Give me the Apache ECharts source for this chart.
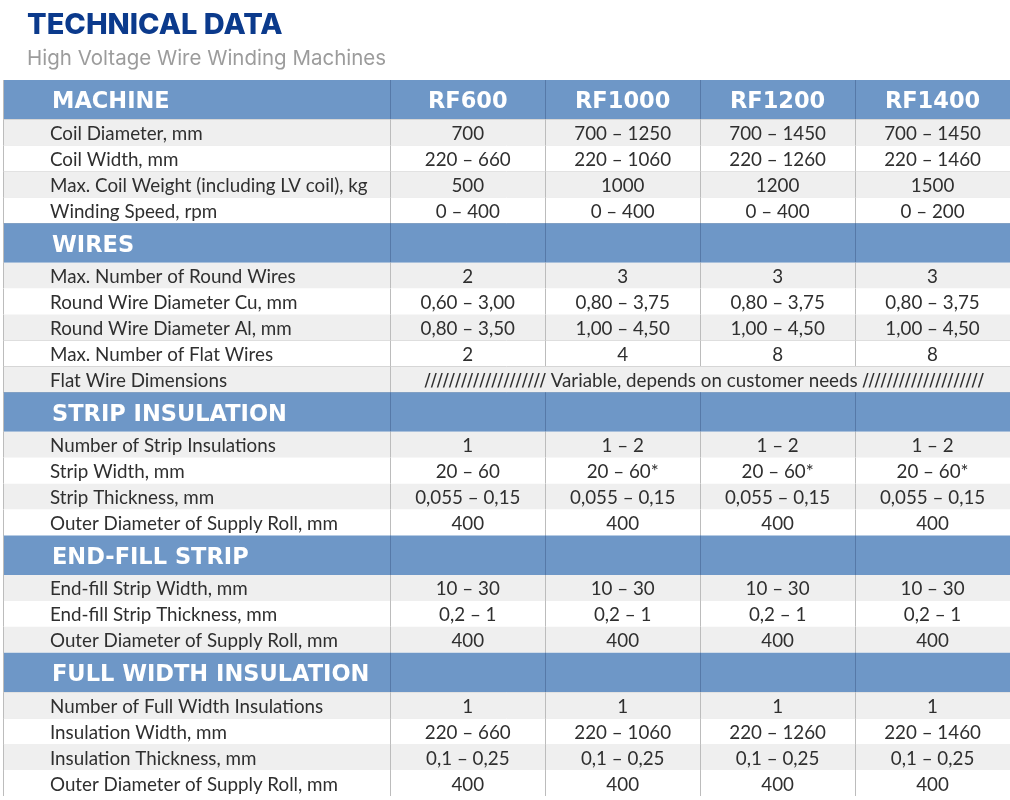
<!DOCTYPE html>
<html>
<head>
<meta charset="utf-8">
<title>Technical Data</title>
<script src="https://cdn.jsdelivr.net/npm/echarts@6/dist/echarts.min.js"></script>
<style>
  html, body { margin: 0; padding: 0; background: #fff; }
  #chart { width: 1010px; height: 800px; }
</style>
</head>
<body>
<div id="chart"></div>
<script>
const machines = ['RF600', 'RF1000', 'RF1200', 'RF1400'];
const sectionTitles = ['MACHINE', 'WIRES', 'STRIP INSULATION', 'END-FILL STRIP', 'FULL WIDTH INSULATION'];

const machineRows = ['Coil Diameter, mm', 'Coil Width, mm', 'Max. Coil Weight (including LV coil), kg', 'Winding Speed, rpm'];
const wireRows = ['Max. Number of Round Wires', 'Round Wire Diameter Cu, mm', 'Round Wire Diameter Al, mm', 'Max. Number of Flat Wires', 'Flat Wire Dimensions'];
const stripRows = ['Number of Strip Insulations', 'Strip Width, mm', 'Strip Thickness, mm', 'Outer Diameter of Supply Roll, mm'];
const endFillRows = ['End-fill Strip Width, mm', 'End-fill Strip Thickness, mm', 'Outer Diameter of Supply Roll, mm'];
const fullWidthRows = ['Number of Full Width Insulations', 'Insulation Width, mm', 'Insulation Thickness, mm', 'Outer Diameter of Supply Roll, mm'];

// values per machine, in table order; null marks the merged "Flat Wire Dimensions" row
const rf600 = ['700', '220 – 660', '500', '0 – 400',
  '2', '0,60 – 3,00', '0,80 – 3,50', '2', null,
  '1', '20 – 60', '0,055 – 0,15', '400',
  '10 – 30', '0,2 – 1', '400',
  '1', '220 – 660', '0,1 – 0,25', '400'];
const rf1000 = ['700 – 1250', '220 – 1060', '1000', '0 – 400',
  '3', '0,80 – 3,75', '1,00 – 4,50', '4', null,
  '1 – 2', '20 – 60*', '0,055 – 0,15', '400',
  '10 – 30', '0,2 – 1', '400',
  '1', '220 – 1060', '0,1 – 0,25', '400'];
const rf1200 = ['700 – 1450', '220 – 1260', '1200', '0 – 400',
  '3', '0,80 – 3,75', '1,00 – 4,50', '8', null,
  '1 – 2', '20 – 60*', '0,055 – 0,15', '400',
  '10 – 30', '0,2 – 1', '400',
  '1', '220 – 1260', '0,1 – 0,25', '400'];
const rf1400 = ['700 – 1450', '220 – 1460', '1500', '0 – 200',
  '3', '0,80 – 3,75', '1,00 – 4,50', '8', null,
  '1 – 2', '20 – 60*', '0,055 – 0,15', '400',
  '10 – 30', '0,2 – 1', '400',
  '1', '220 – 1460', '0,1 – 0,25', '400'];
const flatWireNote = '//////////////////// Variable, depends on customer needs ////////////////////';

// layout
const labelColWidth = 2.5;   // in units of a machine column
const sectionHeight = 1.52;  // in units of a data row
const BLUE = '#6e97c7';
const BLUE_LINE = '#5679a8';
const GRID_LINE = '#bcbcbc';
const STRIPE = '#efefef';
const TEXT = '#2f2f2f';
const BODY_FONT = 'Lato, "Noto Sans", sans-serif';
const HEAD_FONT = '"DejaVu Sans", sans-serif';
const BODY_SIZE = 18.8;

const columns = [rf600, rf1000, rf1200, rf1400];
const groups = [machineRows, wireRows, stripRows, endFillRows, fullWidthRows];

// flatten into table rows with cumulative top/bottom (in row units)
const rows = [];
let cursor = 0, valueIdx = 0;
groups.forEach(function (labels, g) {
  rows.push({ kind: 'section', title: sectionTitles[g], first: g === 0, top: cursor, bottom: cursor + sectionHeight });
  cursor += sectionHeight;
  labels.forEach(function (label, i) {
    const vals = columns.map(function (c) { return c[valueIdx]; });
    rows.push({ kind: 'data', label: label, values: vals, stripe: i % 2 === 0, top: cursor, bottom: cursor + 1 });
    cursor += 1;
    valueIdx++;
  });
});
const totalHeight = cursor;
const totalWidth = labelColWidth + machines.length;
const colEdges = [0, labelColWidth];
machines.forEach(function (m, i) { colEdges.push(labelColWidth + i + 1); });

function text(str, x, y, opt) {
  const style = {
    text: str, x: 0, y: 0,
    fill: opt.fill || TEXT,
    fontFamily: opt.font || BODY_FONT,
    fontSize: opt.size || BODY_SIZE,
    fontWeight: opt.weight || 'normal',
    align: opt.align || 'center',
    verticalAlign: 'middle'
  };
  if (opt.rich) style.rich = opt.rich;
  return { type: 'text', x: x, y: y, style: style };
}

function renderRow(params, api) {
  const idx = api.value(0);
  const r = rows[idx];
  const tl = api.coord([0, r.top]);
  const br = api.coord([totalWidth, r.bottom]);
  const yMid = (tl[1] + br[1]) / 2;
  const xs = colEdges.map(function (c) { return api.coord([c, r.top])[0]; });
  const children = [];
  const isSection = r.kind === 'section';
  children.push({
    type: 'rect',
    shape: { x: tl[0], y: tl[1], width: br[0] - tl[0], height: br[1] - tl[1] },
    style: { fill: isSection ? BLUE : (r.stripe ? STRIPE : '#ffffff') }
  });
  // horizontal rule under the row
  if (idx < rows.length - 1) {
    children.push({
      type: 'line',
      shape: { x1: tl[0], y1: Math.round(br[1]) + 0.5, x2: br[0], y2: Math.round(br[1]) + 0.5 },
      style: { stroke: GRID_LINE, lineWidth: 1 }
    });
  }
  // vertical dividers
  const merged = r.kind === 'data' && r.values[0] === null;
  xs.forEach(function (x, i) {
    if (i === colEdges.length - 1) return;
    if (merged && i > 1) return;
    const xx = Math.round(x) + 0.5;
    children.push({
      type: 'line',
      shape: { x1: xx, y1: tl[1], x2: xx, y2: br[1] },
      style: { stroke: isSection && i > 0 ? BLUE_LINE : GRID_LINE, lineWidth: 1 }
    });
  });
  if (isSection) {
    const dy = r.first ? 2 : 3;
    children.push(text(r.title, xs[0] + 49, yMid + dy, { align: 'left', fill: '#ffffff', font: HEAD_FONT, size: 22.5, weight: 'bold' }));
    if (r.first) {
      machines.forEach(function (m, i) {
        children.push(text(m, (xs[i + 1] + xs[i + 2]) / 2, yMid + dy, { fill: '#ffffff', font: HEAD_FONT, size: 22.5, weight: 'bold' }));
      });
    }
  } else {
    children.push(text(r.label, xs[0] + 47, yMid + 1.5, { align: 'left' }));
    if (merged) {
      const note = flatWireNote.replace(/\/+/g, function (s) { return '{s|' + s + '}'; });
      children.push(text(note, (xs[1] + xs[xs.length - 1]) / 2 + 4, yMid + 1.5, {
        rich: { s: { fontFamily: '"DejaVu Sans", sans-serif', fontSize: 18, fill: TEXT } }
      }));
    } else {
      r.values.forEach(function (v, i) {
        children.push(text(v, (xs[i + 1] + xs[i + 2]) / 2, yMid + 1.5, {}));
      });
    }
  }
  return { type: 'group', children: children };
}

const chart = echarts.init(document.getElementById('chart'));
chart.setOption({
  animation: false,
  backgroundColor: '#ffffff',
  title: {
    text: 'TECHNICAL DATA',
    subtext: 'High Voltage Wire Winding Machines',
    left: 22,
    top: 6,
    itemGap: 8,
    textStyle: { fontFamily: 'Inter, sans-serif', fontSize: 29, fontWeight: 800, color: '#0b3a8c' },
    subtextStyle: { fontFamily: 'Inter, sans-serif', fontSize: 20.5, color: '#9c9c9c' }
  },
  grid: { left: 3, right: 0, top: 80, bottom: 4 },
  xAxis: { type: 'value', min: 0, max: totalWidth, show: false },
  yAxis: { type: 'value', min: 0, max: totalHeight, inverse: true, show: false },
  series: [{
    type: 'custom',
    clip: false,
    renderItem: renderRow,
    data: rows.map(function (r, i) { return [i, r.top, r.bottom]; }),
    encode: { x: -1, y: [1, 2] }
  }]
});
</script>
</body>
</html>
